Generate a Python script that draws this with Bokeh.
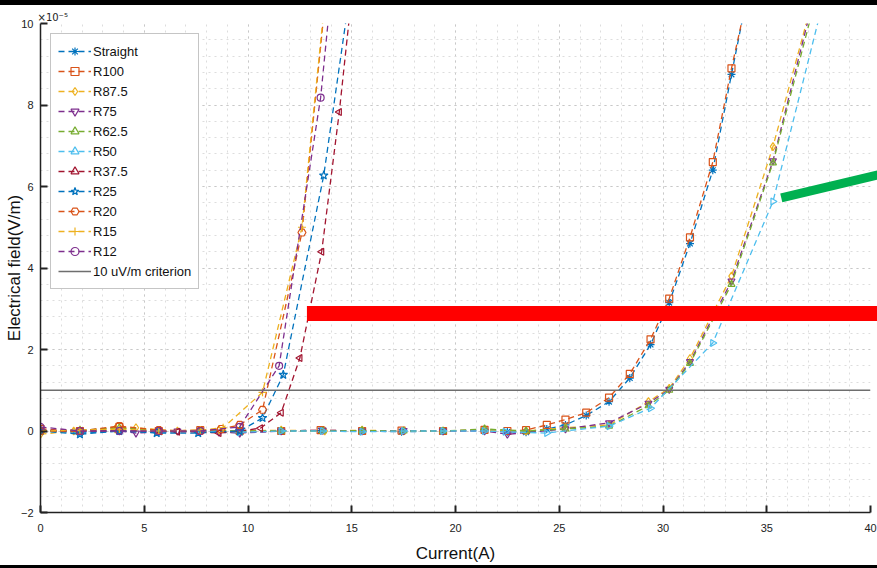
import numpy as np
from bokeh.plotting import figure
from bokeh.layouts import column
from bokeh.models import Range1d, Legend, LegendItem, Title, SingleIntervalTicker, Div
from bokeh.embed import file_html
from bokeh.resources import INLINE

# ---------------- data (values in units of 1e-5 V/m) ----------------
names = ["Straight", "R100", "R87.5", "R75", "R62.5", "R50", "R37.5", "R25", "R20", "R15", "R12"]

x_straight = [0, 1.9, 3.8, 5.7, 7.7, 9.6, 11.6, 13.5, 15.5, 17.4, 19.4, 21.4, 22.5, 23.4, 24.4, 25.3, 26.3, 27.4, 28.4, 29.4, 30.3, 31.3, 32.4, 33.3, 34.3]
y_straight = [0.02, -0.05, 0.0, -0.03, 0.0, -0.04, 0.0, 0.01, 0.0, -0.02, 0.0, 0.02, -0.02, -0.03, 0.05, 0.15, 0.38, 0.72, 1.3, 2.12, 3.15, 4.6, 6.4, 8.75, 11.3]

x_r100 = [0, 1.9, 3.8, 5.7, 7.7, 9.6, 11.6, 13.5, 15.5, 17.4, 19.4, 21.4, 22.5, 23.4, 24.4, 25.3, 26.3, 27.4, 28.4, 29.4, 30.3, 31.3, 32.4, 33.3, 34.3]
y_r100 = [0.05, 0.0, 0.1, 0.0, 0.02, 0.0, 0.0, 0.02, 0.0, 0.01, 0.0, 0.03, 0.0, 0.02, 0.15, 0.28, 0.45, 0.82, 1.4, 2.25, 3.25, 4.75, 6.6, 8.9, 11.2]

x_r87 = [0, 1.6, 3.6, 4.6, 6.6, 8.6, 9.7, 11.6, 13.7, 15.5, 17.5, 19.4, 21.4, 23.4, 25.3, 27.4, 29.3, 30.3, 31.3, 33.3, 35.3, 37.3]
y_r87 = [-0.08, 0.0, 0.05, 0.08, 0.0, 0.02, 0.0, 0.02, 0.0, 0.02, 0.0, 0.0, 0.02, 0.0, 0.08, 0.15, 0.72, 1.05, 1.78, 3.8, 6.98, 10.75]

x_r75 = [0, 1.9, 3.8, 4.6, 6.6, 8.6, 9.6, 11.6, 13.6, 15.5, 17.5, 19.4, 21.4, 22.5, 25.3, 27.4, 29.3, 30.3, 31.3, 33.3, 35.3, 37.3]
y_r75 = [0.02, 0.0, 0.0, -0.05, 0.0, -0.03, -0.05, 0.0, 0.02, 0.0, 0.01, 0.0, 0.0, -0.08, 0.05, 0.2, 0.68, 1.02, 1.7, 3.68, 6.63, 10.7]

x_r62 = [0, 1.9, 3.8, 5.7, 7.7, 9.6, 11.6, 13.6, 15.5, 17.5, 19.4, 21.4, 23.4, 25.3, 27.4, 29.3, 30.3, 31.3, 33.3, 35.3, 37.3]
y_r62 = [0.0, 0.02, 0.08, 0.0, 0.0, 0.0, 0.0, 0.0, 0.01, 0.0, 0.0, 0.05, 0.0, 0.05, 0.12, 0.62, 1.0, 1.66, 3.6, 6.58, 10.5]

x_r50 = [0, 1.9, 3.8, 5.7, 7.7, 9.6, 11.6, 13.6, 15.5, 17.5, 19.4, 21.4, 22.4, 24.4, 27.4, 29.4, 32.4, 35.3, 37.6]
y_r50 = [0.0, -0.02, 0.0, -0.02, 0.0, -0.03, 0.0, 0.0, -0.02, 0.0, 0.0, 0.0, -0.02, -0.05, 0.12, 0.56, 2.16, 5.63, 10.3]

x_r37 = [0, 1.9, 3.8, 5.7, 6.6, 7.6, 8.6, 9.6, 10.6, 11.6, 12.5, 13.55, 14.4, 15.4]
y_r37 = [0.0, 0.0, 0.0, 0.0, -0.02, -0.02, -0.05, 0.0, 0.07, 0.45, 1.79, 4.4, 7.83, 12.6]

x_r25 = [0, 1.9, 3.8, 5.6, 7.6, 9.6, 10.7, 11.7, 13.65, 15.6]
y_r25 = [0.0, -0.08, 0.0, -0.05, -0.05, 0.0, 0.32, 1.38, 6.27, 13.2]

x_r20 = [0, 1.9, 3.8, 5.7, 7.7, 8.7, 9.6, 10.7, 12.6, 14.5]
y_r20 = [0.0, 0.0, 0.12, 0.02, 0.0, 0.05, 0.15, 0.52, 4.87, 14.5]

x_r15 = [0, 1.9, 3.8, 5.7, 7.7, 8.8, 10.7, 12.6, 14.5]
y_r15 = [0.0, 0.02, 0.05, 0.0, 0.02, 0.08, 0.95, 5.0, 14.6]

x_r12 = [0, 1.9, 3.8, 5.7, 7.7, 9.6, 11.5, 13.5, 15.4]
y_r12 = [0.1, 0.0, 0.0, 0.0, 0.0, 0.1, 1.6, 8.18, 18.0]

criterion_x = [0, 40]
criterion_y = [1, 1]

x_ticks_interval = 5
y_ticks_interval = 2

series_x = [x_straight, x_r100, x_r87, x_r75, x_r62, x_r50, x_r37, x_r25, x_r20, x_r15, x_r12]
series_y = [y_straight, y_r100, y_r87, y_r75, y_r62, y_r50, y_r37, y_r25, y_r20, y_r15, y_r12]

# ---------------- styles ----------------
colors = ["#0072BD", "#D95319", "#EDB120", "#7E2F8E", "#77AC30", "#4DBEEE", "#A2142F",
          "#0072BD", "#D95319", "#EDB120", "#7E2F8E"]
markers = ["asterisk", "square", "diamond", "inverted_triangle", "triangle", "triangle",
           "triangle", "star", "hex", "cross", "circle"]
angles = [0, 0, 0, 0, 0, -np.pi / 2, np.pi / 2, 0, 0, 0, 0]
msizes = [8, 7, 8, 7, 7, 7, 7, 9, 8, 8, 7]

FONT = "Liberation Sans"

p = figure(width=877, height=560, output_backend="svg", toolbar_location=None,
           x_range=Range1d(0, 40), y_range=Range1d(-2, 10),
           min_border_left=40, min_border_right=7, min_border_top=18, min_border_bottom=53,
           background_fill_color="white", border_fill_color="white", margin=0)
p.outline_line_color = None

items = []
for i, name in enumerate(names):
    lr = p.line(series_x[i], series_y[i], line_color=colors[i], line_width=1.3, line_dash="6 4")
    sr = p.scatter(series_x[i], series_y[i], marker=markers[i], size=msizes[i], angle=angles[i],
                   line_color=colors[i], fill_color=None, line_width=1.2)
    items.append(LegendItem(label=name, renderers=[lr, sr]))

cr = p.line(criterion_x, criterion_y, line_color="#6e6e6e", line_width=1.6)
items.append(LegendItem(label="10 uV/m criterion", renderers=[cr]))

legend = Legend(items=items, location="top_left", margin=10, padding=7, spacing=0,
                glyph_height=20, glyph_width=33, label_height=20, label_standoff=2,
                label_text_font=FONT, label_text_font_size="13px", label_text_color="#111111",
                border_line_color="#8c8c8c", border_line_width=1.5,
                background_fill_color="white", background_fill_alpha=1.0)
p.add_layout(legend)

# axes
for ax in (p.xaxis[0], p.yaxis[0]):
    ax.axis_line_color = "#222222"
    ax.axis_line_width = 1.5
    ax.major_tick_in = 7
    ax.major_tick_out = 0
    ax.major_tick_line_width = 2
    ax.major_tick_line_color = "#222222"
    ax.minor_tick_line_color = None
    ax.major_label_text_font = FONT
    ax.major_label_text_font_size = "11px"
    ax.major_label_text_color = "#222222"
    ax.axis_label_text_font = FONT
    ax.axis_label_text_font_style = "normal"
    ax.axis_label_text_font_size = "17px"
    ax.axis_label_text_color = "#111111"

p.xaxis.ticker = SingleIntervalTicker(interval=x_ticks_interval, num_minor_ticks=5)
p.yaxis.ticker = SingleIntervalTicker(interval=y_ticks_interval, num_minor_ticks=5)
p.xaxis.axis_label = "Current(A)"
p.yaxis.axis_label = "Electrical field(V/m)"
p.xaxis.major_label_standoff = 7
p.yaxis.major_label_standoff = 3
p.xaxis.axis_label_standoff = 9
p.yaxis.axis_label_standoff = -6

for g in (p.xgrid[0], p.ygrid[0]):
    g.grid_line_color = "#c8c8c8"
    g.grid_line_dash = "dotted"
    g.grid_line_width = 1
    g.minor_grid_line_color = "#dddddd"
    g.minor_grid_line_dash = "dotted"
    g.minor_grid_line_width = 1

# exponent of the y axis, above the frame
p.add_layout(Title(text="×10⁻⁵", align="left", offset=-3, standoff=2, text_font="DejaVu Sans",
                   text_font_size="10px", text_font_style="normal", text_color="#222222"), "above")

# highlight annotations drawn over the chart
green_box = dict(left=1.92, right=6.63, top=8.01, bottom=5.68)
red_box = dict(left=2.02, right=6.63, top=5.63, bottom=3.98)
red_bar = dict(left=12.84, right=40.5, top=3.07, bottom=2.70)
green_stroke_x = [35.7, 40.5]
green_stroke_y = [5.72, 6.3]

p.quad(**green_box, fill_color=None, line_color="#00B050", line_width=3, level="overlay")
p.quad(**red_box, fill_color=None, line_color="#FF0000", line_width=3, level="overlay")
p.quad(**red_bar, fill_color="#FF0000", line_color=None, level="overlay")
p.line(green_stroke_x, green_stroke_y, line_color="#00B050", line_width=9, level="overlay")

top_band = Div(width=877, height=5, margin=0, styles={"background-color": "black"})
bottom_band = Div(width=877, height=3, margin=0, styles={"background-color": "black"})
layout = column(top_band, p, bottom_band, spacing=0, margin=0)

open("out.html", "w").write(file_html(layout, INLINE))
